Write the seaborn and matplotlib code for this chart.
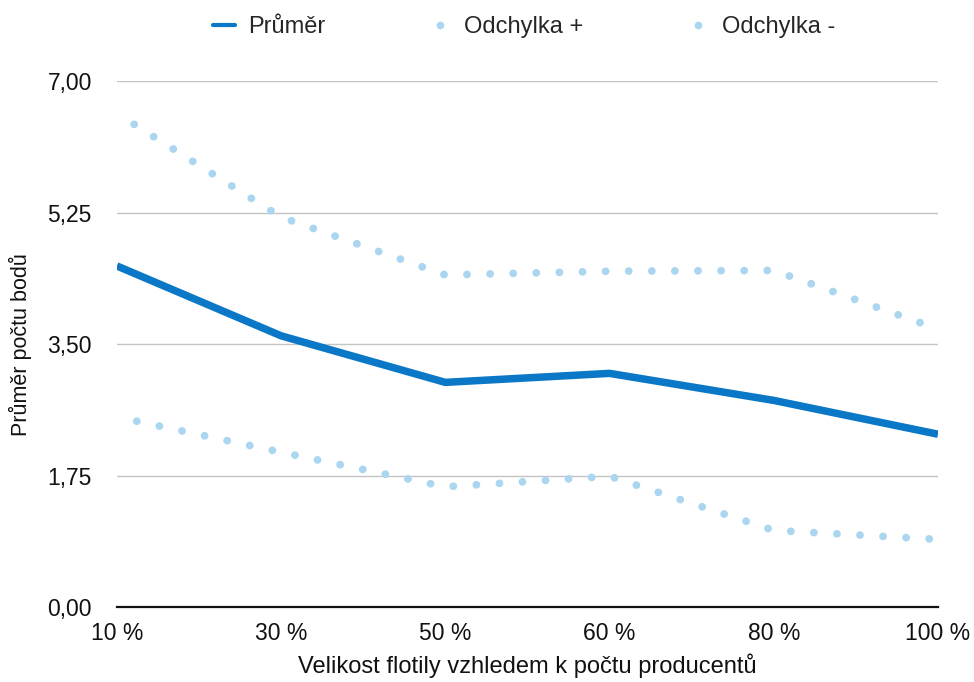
import numpy as np
import pandas as pd
import matplotlib
matplotlib.use("Agg")
import matplotlib.pyplot as plt
from matplotlib.lines import Line2D
import seaborn as sns

# Data
categories = ["10 %", "30 %", "50 %", "60 %", "80 %", "100 %"]
prumer = [4.54, 3.61, 2.99, 3.11, 2.75, 2.30]
odchylka_plus = [6.57, 5.19, 4.42, 4.47, 4.48, 3.70]
odchylka_minus = [2.53, 2.06, 1.60, 1.74, 1.02, 0.90]
yticks = [0.0, 1.75, 3.5, 5.25, 7.0]

dark_blue = "#0a78c6"
light_blue = "#aad6f0"
text_col = "#111111"

sns.set_theme(style="white")
plt.rcParams["font.family"] = ["Liberation Sans", "DejaVu Sans"]

df = pd.DataFrame({
    "pos": np.arange(len(categories)),
    "Průměr": prumer,
    "Odchylka +": odchylka_plus,
    "Odchylka -": odchylka_minus,
})

fig = plt.figure(figsize=(9.74, 6.82), dpi=100)
ax = fig.add_axes([0.120, 0.110, 0.843, 0.771])

# round dots, ~23 px apart
dotted = (0.35, (0.01, 2.96))
for col in ["Odchylka +", "Odchylka -"]:
    sns.lineplot(data=df, x="pos", y=col, ax=ax, color=light_blue,
                 linewidth=5.6, linestyle=dotted, dash_capstyle="round")
sns.lineplot(data=df, x="pos", y="Průměr", ax=ax, color=dark_blue,
             linewidth=5.4, solid_capstyle="butt", solid_joinstyle="miter")

ax.set_xlim(0, len(categories) - 1)
ax.set_ylim(0, 7)
ax.set_xticks(df["pos"])
ax.set_xticklabels(categories)
ax.set_yticks(yticks)
ax.set_yticklabels([f"{v:.2f}".replace(".", ",") for v in yticks])
ax.tick_params(axis="both", length=0, labelsize=16.5, colors=text_col)
ax.tick_params(axis="x", pad=11)
ax.tick_params(axis="y", pad=18)

for v in yticks[1:]:
    ax.axhline(v, color="#c4c4c4", linewidth=1, zorder=0)

for s in ["top", "right", "left"]:
    ax.spines[s].set_visible(False)
ax.spines["bottom"].set_color(text_col)
ax.spines["bottom"].set_linewidth(1.6)

ax.set_xlabel("Velikost flotily vzhledem k počtu producentů", fontsize=17,
              color=text_col, labelpad=6)
ax.set_ylabel("Průměr počtu bodů", fontsize=15.5, color=text_col, labelpad=11)

handles = [
    Line2D([], [], color=dark_blue, linewidth=3),
    Line2D([], [], color=light_blue, linestyle="none", marker="o", markersize=4.5),
    Line2D([], [], color=light_blue, linestyle="none", marker="o", markersize=4.5),
]
fig.legend(handles, ["Průměr", "Odchylka +", "Odchylka -"],
           loc="center left", bbox_to_anchor=(213 / 974, 1 - 27 / 682), ncol=3,
           frameon=False, fontsize=17, handlelength=0.93, handletextpad=0.55,
           columnspacing=4.4, borderpad=0, borderaxespad=0)

fig.savefig("out.png", dpi=100)
